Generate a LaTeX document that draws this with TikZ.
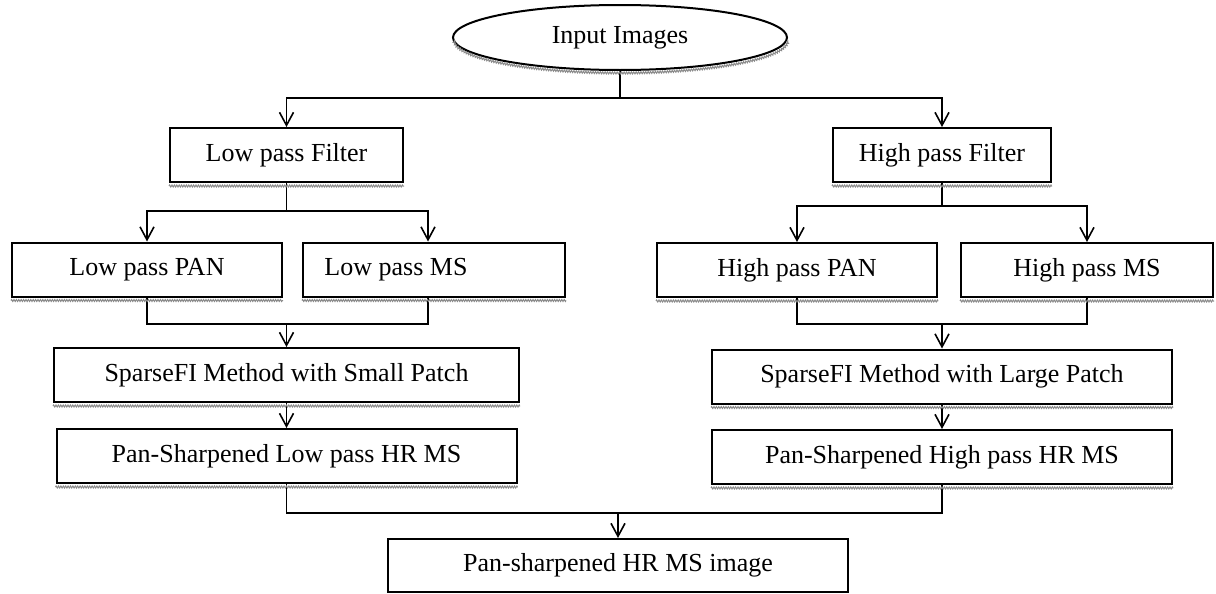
\documentclass[tikz,border=0pt]{standalone}
\usepackage{fontspec}
\setmainfont{Liberation Serif}
\usetikzlibrary{arrows.meta,shapes.geometric,decorations.pathmorphing}
\definecolor{shadowgray}{HTML}{8a8a8a}

\begin{document}
\begin{tikzpicture}[x=0.5pt,y=-0.5pt,
  font=\fontsize{13}{15}\selectfont,
  blk/.style={draw,line width=1pt,rectangle,inner sep=0pt,minimum height=27pt},
  link/.style={line width=0.9pt},
  arr/.style={link,-{Straight Barb[length=6.5pt,width=7pt,line width=0.8pt]}},
  rough/.style={shadowgray,line width=0.5pt,decorate,decoration={zigzag,segment length=1.2pt,amplitude=0.5pt}}]
  \useasboundingbox (0,0) rectangle (1216,594);

  \node[draw,ellipse,line width=1pt,inner sep=0pt,minimum width=167pt,minimum height=32.5pt] (in) at (620,37.5) {Input Images};
  \node[blk,minimum width=116.5pt] (lpf) at (286.5,155) {Low pass Filter};
  \node[blk,minimum width=109pt] (hpf) at (942,155) {High pass Filter};
  \node[blk,minimum width=135pt] (lpan) at (147,269.5) {Low pass PAN};
  \node[blk,minimum width=131pt] (lms) at (434,269.5) {Low pass MS\hspace*{38pt}};
  \node[blk,minimum width=140pt] (hpan) at (797,270) {High pass PAN};
  \node[blk,minimum width=126pt] (hms) at (1087,270) {High pass MS};
  \node[blk,minimum width=232.5pt] (ssm) at (286.5,375) {SparseFI Method with Small Patch};
  \node[blk,minimum width=230pt] (slg) at (942,376.5) {SparseFI Method with Large Patch};
  \node[blk,minimum width=230pt] (plo) at (286.5,456) {Pan-Sharpened Low pass HR MS};
  \node[blk,minimum width=230pt] (phi) at (942,457) {Pan-Sharpened High pass HR MS};
  \node[blk,minimum width=230pt,minimum height=26.5pt] (out) at (618,565.5) {Pan-sharpened HR MS image};

  \coordinate (j1) at (620,98);
  \coordinate (j2) at (286.5,211);
  \coordinate (j3) at (942,206);
  \coordinate (j4) at (286.5,324);
  \coordinate (j5) at (942,324);
  \coordinate (j6) at (618,513);

  \draw[link] (in.south) -- (j1);
  \draw[arr] (j1) -| (lpf.north);
  \draw[arr] (j1) -| (hpf.north);
  \draw[link] (lpf.south) -- (j2);
  \draw[arr] (j2) -| ([xshift=-3pt]lms.north);
  \draw[arr] (j2) -| (lpan.north);
  \draw[link] (hpf.south) -- (j3);
  \draw[arr] (j3) -| (hpan.north);
  \draw[arr] (j3) -| (hms.north);
  \draw[link] (lpan.south) |- (j4);
  \draw[link] ([xshift=-3pt]lms.south) |- (j4);
  \draw[arr] (j4) -- (ssm.north);
  \draw[link] (hpan.south) |- (j5);
  \draw[link] (hms.south) |- (j5);
  \draw[arr] (j5) -- (slg.north);
  \draw[arr] (ssm.south) -- (plo.north);
  \draw[arr] (slg.south) -- (phi.north);
  \draw[link] (plo.south) |- (j6);
  \draw[link] (phi.south) |- (j6);
  \draw[arr] (j6) -- (out.north);

  \draw[rough] ([shift={(1pt,-1.5pt)}]in.west) arc[start angle=180,end angle=360,x radius=83.5pt,y radius=16.25pt];
  \foreach \n in {lpf,hpf,lpan,lms,hpan,hms,ssm,slg,plo,phi}
    \draw[rough] ([yshift=-1.5pt]\n.south west) -- ([yshift=-1.5pt]\n.south east);
\end{tikzpicture}
\end{document}
